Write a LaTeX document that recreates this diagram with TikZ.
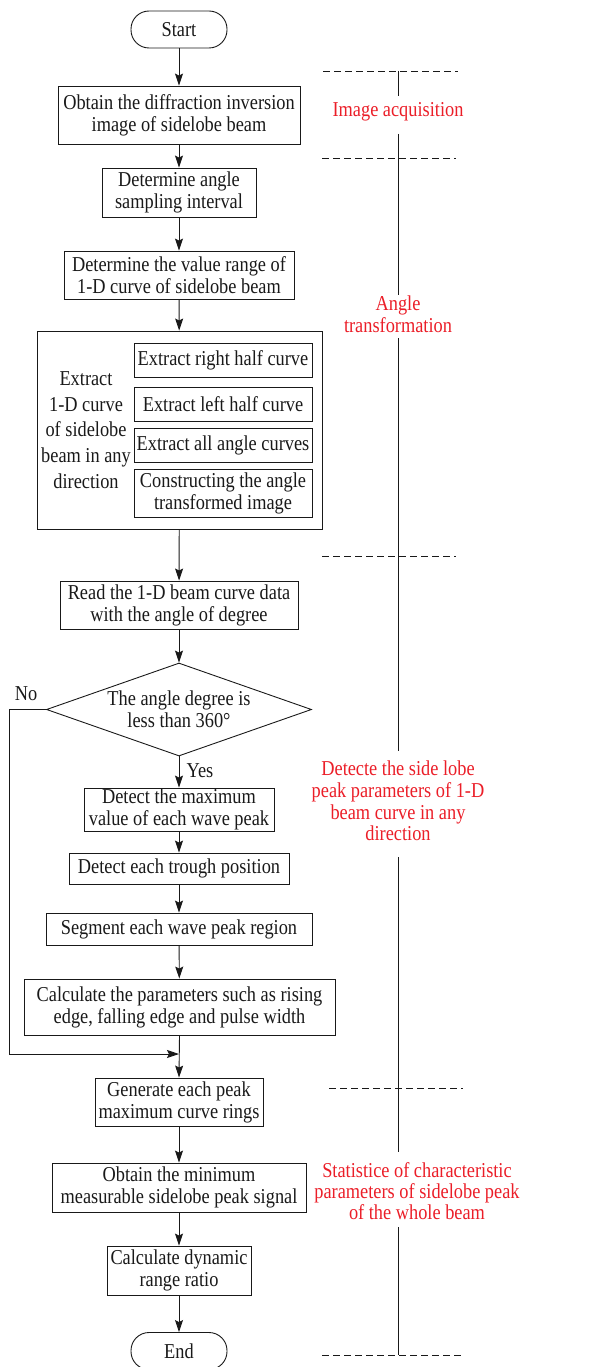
\documentclass[tikz,border=0pt]{standalone}
\usepackage{fontspec}
\setmainfont{Liberation Serif}[FakeStretch=0.865]
\usetikzlibrary{shapes.geometric,arrows.meta}
\definecolor{labred}{RGB}{235,30,40}
\definecolor{ink}{RGB}{25,25,25}
\begin{document}
\begin{tikzpicture}[x=1pt,y=-1pt,
  font=\fontsize{21.2}{22}\selectfont,
  every node/.style={text=ink},
  box/.style={draw=ink, line width=0.9pt, align=center, inner sep=0pt},
  term/.style={box, rounded corners=18pt, minimum width=96pt, minimum height=37pt},
  arr/.style={draw=ink, line width=0.9pt, -{Stealth[length=12pt,width=8pt,inset=2pt]}},
  dashline/.style={draw=ink, line width=0.8pt, dash pattern=on 7pt off 4pt},
  vline/.style={draw=ink, line width=0.8pt},
  lab/.style={text=labred, align=center}]
\useasboundingbox (0,0) rectangle (606,1367);

% main flow
\node[term] (start) at (179,29.5) {Start};
\node[box, minimum width=242pt, minimum height=58pt] (b1) at (179,115) {Obtain the diffraction inversion\\image of sidelobe beam};
\node[box, minimum width=154pt, minimum height=49pt] (b2) at (179,192.5) {Determine angle\\sampling interval};
\node[box, minimum width=230pt, minimum height=48pt] (b3) at (179,275) {Determine the value range of\\1-D curve of sidelobe beam};
\node[box, minimum width=285pt, minimum height=198pt] (big) at (179.5,430) {};
\node[box, minimum width=178pt, minimum height=34pt] (s1) at (223,360) {Extract right half curve};
\node[box, minimum width=178pt, minimum height=34pt] (s2) at (223,404) {Extract left half curve};
\node[box, minimum width=178pt, minimum height=34pt] (s3) at (223,445) {Extract all angle curves};
\node[box, minimum width=178pt, minimum height=48pt] (s4) at (223,493) {Constructing the angle\\transformed image};
\node[align=center, font=\fontsize{21.2}{25.8}\selectfont] (ltxt) at (86,430) {Extract\\1-D curve\\of sidelobe\\beam in any\\direction};
\node[box, minimum width=238pt, minimum height=48pt] (b4) at (179,605) {Read the 1-D beam curve data\\with the angle of degree};
\node[diamond, draw=ink, line width=0.9pt, aspect=2.85, inner sep=0pt, minimum width=265pt, minimum height=93pt, align=center] (dia) at (179,709.5) {The angle degree is\\less than 360°};
\node[box, minimum width=190pt, minimum height=43pt] (b5) at (179,809.5) {Detect the maximum\\value of each wave peak};
\node[box, minimum width=220pt, minimum height=31pt] (b6) at (179,868.5) {Detect each trough position};
\node[box, minimum width=266pt, minimum height=32pt] (b7) at (179,929) {Segment each wave peak region};
\node[box, minimum width=311pt, minimum height=56pt] (b8) at (179.5,1007) {Calculate the parameters such as rising\\edge, falling edge and pulse width};
\node[box, minimum width=168pt, minimum height=48pt] (b9) at (179,1102) {Generate each peak\\maximum curve rings};
\node[box, minimum width=254pt, minimum height=49pt] (b10) at (179,1187.5) {Obtain the minimum\\measurable sidelobe peak signal};
\node[box, minimum width=144pt, minimum height=49pt] (b11) at (179,1270.5) {Calculate dynamic\\range ratio};
\node[term] (end) at (179,1351) {End};

\node (no) at (26,694) {No};
\node (yes) at (200,771) {Yes};

% arrows
\draw[arr] (start) -- (b1);
\draw[arr] (b1) -- (b2);
\draw[arr] (b2) -- (b3);
\draw[arr] (b3) -- (big);
\draw[arr] (big) -- (b4);
\draw[arr] (b4) -- (dia);
\draw[arr] (dia) -- (b5);
\draw[arr] (b5) -- (b6);
\draw[arr] (b6) -- (b7);
\draw[arr] (b7) -- (b8);
\draw[arr] (b8.south) -- (b9.north);
\draw[arr] (b9) -- (b10);
\draw[arr] (b10) -- (b11);
\draw[arr] (b11) -- (end);

% loop
\coordinate (lc1) at (9,709.5);
\coordinate (lc2) at (9,1054);
\coordinate (join) at (179,1054);
\draw[arr] (dia.west) -- (lc1) -- (lc2) -- (join);

% stage labels
\node[lab] (l1) at (398,112) {Image acquisition};
\node[lab] (l2) at (398,314) {Angle\\transformation};
\node[lab, font=\fontsize{21.2}{21.7}\selectfont] (l3) at (398,801) {Detecte the side lobe\\peak parameters of 1-D\\beam curve in any\\direction};
\node[lab, font=\fontsize{21.2}{21}\selectfont] (l4) at (417,1191) {Statistice of characteristic\\parameters of sidelobe peak\\of the whole beam};

% dashed separators
\coordinate (d1a) at (323,71);  \coordinate (d1b) at (458,71);
\coordinate (d2a) at (322,158); \coordinate (d2b) at (456,158);
\coordinate (d3a) at (322,556); \coordinate (d3b) at (456,556);
\coordinate (d4a) at (329,1088); \coordinate (d4b) at (463,1088);
\coordinate (d5a) at (322,1355); \coordinate (d5b) at (463,1355);
\draw[dashline] (d1a) -- (d1b);
\draw[dashline] (d2a) -- (d2b);
\draw[dashline] (d3a) -- (d3b);
\draw[dashline] (d4a) -- (d4b);
\draw[dashline] (d5a) -- (d5b);

% vertical stage line
\coordinate (v0) at (398,71);
\coordinate (v1) at (398,96);
\coordinate (v2) at (398,134);
\coordinate (v3) at (398,295);
\coordinate (v4) at (398,338);
\coordinate (v5) at (398,751);
\coordinate (v6) at (398,857);
\coordinate (v7) at (398,1152);
\coordinate (v8) at (398,1227);
\coordinate (v9) at (398,1355);
\draw[vline] (v0) -- (v1);
\draw[vline] (v2) -- (v3);
\draw[vline] (v4) -- (v5);
\draw[vline] (v6) -- (v7);
\draw[vline] (v8) -- (v9);
\end{tikzpicture}
\end{document}
